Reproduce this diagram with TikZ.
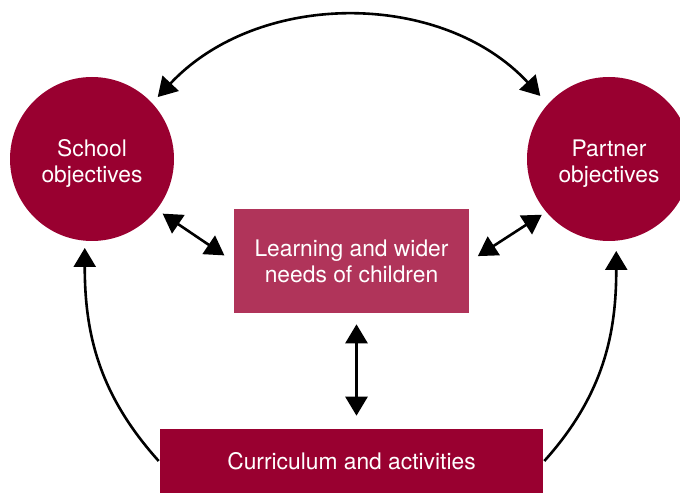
\documentclass[tikz,border=0pt]{standalone}
\usepackage{fontspec}
\setmainfont{TeX Gyre Heros}
\usetikzlibrary{arrows.meta}
\definecolor{wine}{RGB}{153, 0, 48}
\definecolor{rose}{RGB}{176, 52, 90}
% two centred lines, set a little below the middle of the circle
\newcommand{\goaltext}[2]{\raisebox{-5pt}[\height][\depth]{\begin{tabular}{@{}c@{}}#1\\#2\end{tabular}}}

\begin{document}
\begin{tikzpicture}[x=1pt, y=1pt, line width=2.6pt,
    >={Triangle[length=19pt, width=22pt]},
    goal/.style={circle, fill=wine, text=white, minimum size=164pt, inner sep=0pt,
      font=\fontsize{22.8}{26}\selectfont},
    block/.style={fill=#1, text=white, inner sep=0pt, align=center,
      font=\fontsize{22.8}{26}\selectfont}]
  \useasboundingbox (0, 0) rectangle (680, 493);
  \clip (0, 0) rectangle (680, 493);

  \node[goal] (school) at (92, 334) {\goaltext{School}{objectives}};
  \node[goal] (partner) at (609, 334) {\goaltext{Partner}{objectives}};

  \node[block=rose, minimum width=235pt, minimum height=104pt] (needs) at (351.5, 232)
    {Learning and wider\\needs of children};
  \node[block=wine, minimum width=383pt, minimum height=64pt] (curric) at (351.5, 32)
    {Curriculum and activities};

  \draw [<->, shorten <=7pt, shorten >=10pt] (school.43) to[bend left=47] (partner.138);

  \draw [<->, shorten <=6pt, shorten >=10pt] (school.-38) -- (needs.west);
  \draw [<->, shorten <=4pt, shorten >=9pt] (partner.-140) -- (needs.east);

  \draw [<->, shorten <=10pt, shorten >=12pt] ([xshift=5pt]needs.south) -- ([xshift=5pt]curric.north);

  \draw [->, shorten >=6pt] (curric.west) to[out=132, in=-90] (school.-95);
  \draw [->, shorten >=9pt] (curric.east) to[out=48, in=-90] (partner.-85);

\end{tikzpicture}
\end{document}
